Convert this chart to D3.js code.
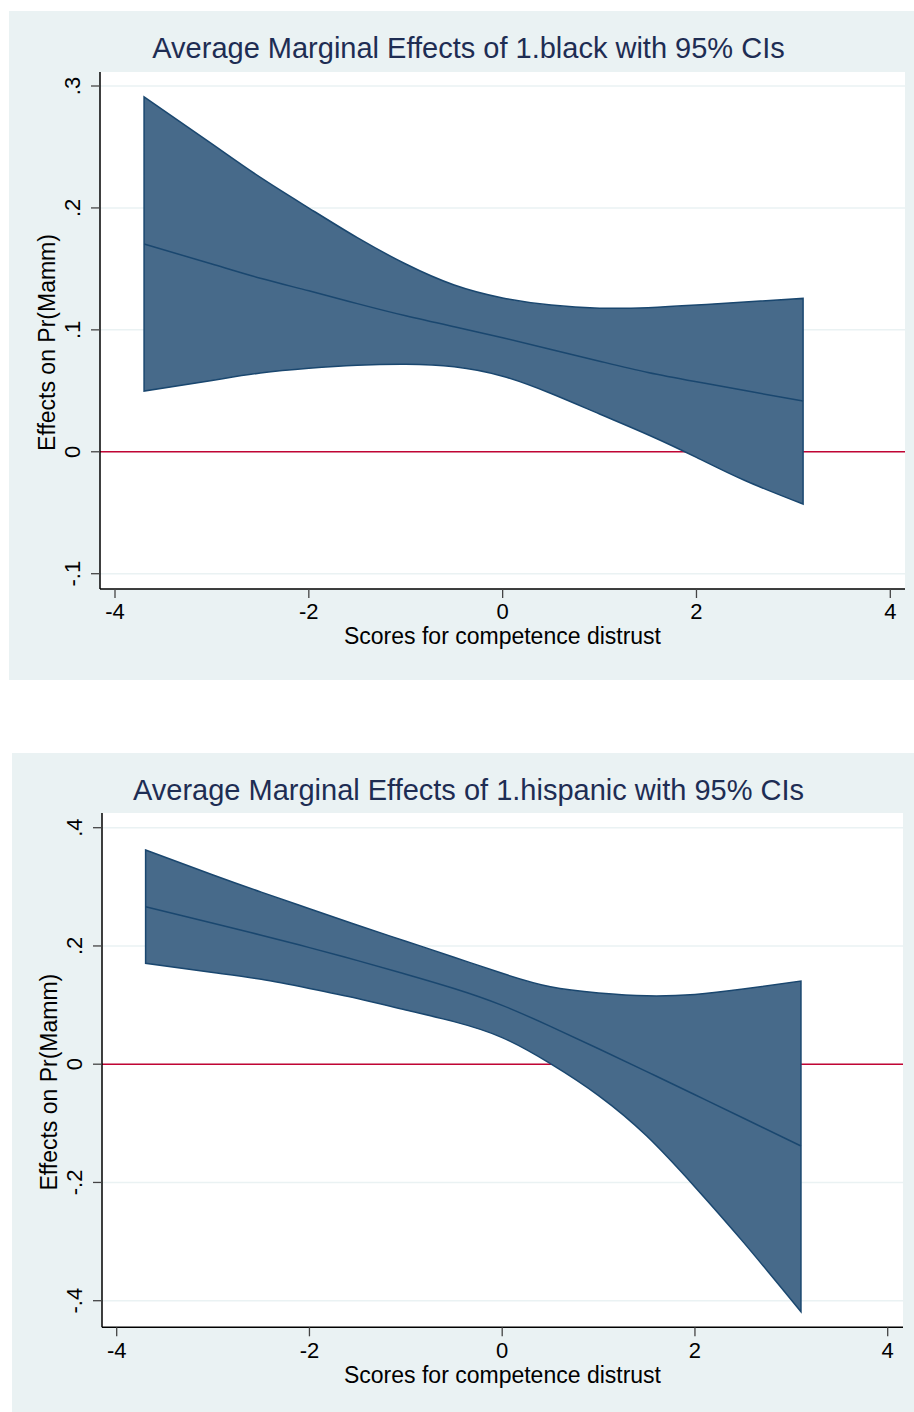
<!DOCTYPE html>
<html>
<head>
<meta charset="utf-8">
<script src="https://cdn.jsdelivr.net/npm/d3@7"></script>
<style>
  html, body { margin: 0; padding: 0; background: #ffffff; }
  svg { display: block; }
  text { font-family: "Liberation Sans", Arial, Helvetica, sans-serif; }
</style>
</head>
<body>
<svg id="chart" width="914" height="1412"></svg>
<script>
// ---- data ----
const xGrid = [-3.7, -3, -2.5, -2, -1.5, -1, -0.5, 0, 0.5, 1, 1.5, 2, 2.5, 3.1];

const blackUpper = [0.291, 0.2525, 0.2250, 0.1999, 0.1756, 0.1540, 0.1368, 0.1262, 0.1203, 0.1178, 0.1182, 0.1203, 0.1228, 0.1258];
const blackMean  = [0.1704, 0.154, 0.1423, 0.132, 0.1215, 0.1115, 0.1025, 0.0935, 0.0839, 0.0743, 0.0650, 0.0574, 0.0502, 0.0416];
const blackLower = [0.0498, 0.0585, 0.0646, 0.0685, 0.0710, 0.0718, 0.0698, 0.0620, 0.0478, 0.0310, 0.0140, -0.0046, -0.0236, -0.0429];

const hispUpper = [0.3623, 0.3200, 0.2910, 0.2630, 0.2350, 0.2080, 0.1810, 0.1537, 0.1310, 0.1205, 0.1157, 0.1180, 0.1270, 0.1407];
const hispMean  = [0.2664, 0.2384, 0.2182, 0.1972, 0.1752, 0.1522, 0.1280, 0.0995, 0.0640, 0.0262, -0.0126, -0.0516, -0.0910, -0.1383];
const hispLower = [0.1706, 0.1550, 0.1435, 0.1282, 0.1113, 0.0918, 0.0720, 0.0450, 0.0010, -0.0530, -0.1215, -0.2075, -0.3005, -0.4186];

const xTicks = [-4, -2, 0, 2, 4];
const xTickLabels = ["-4", "-2", "0", "2", "4"];
const blackYTicks = [-0.1, 0, 0.1, 0.2, 0.3];
const blackYTickLabels = ["-.1", "0", ".1", ".2", ".3"];
const hispYTicks = [-0.4, -0.2, 0, 0.2, 0.4];
const hispYTickLabels = ["-.4", "-.2", "0", ".2", ".4"];

const titles = ["Average Marginal Effects of 1.black with 95% CIs",
                "Average Marginal Effects of 1.hispanic with 95% CIs"];
const xTitle = "Scores for competence distrust";
const yTitle = "Effects on Pr(Mamm)";

// ---- layout ----
const panels = [
  { bg: [9, 11, 914, 680], plot: [100, 72, 905, 589],
    xr: [115, 890.3], yd: [-0.1, 0.3], yr: [573.7, 86],
    yTicks: blackYTicks, yLabels: blackYTickLabels,
    upper: blackUpper, mean: blackMean, lower: blackLower,
    title: titles[0], titleY: 58, tickLabY: 619, xTitleY: 644, yLabX: 80, yTitleX: 55 },
  { bg: [12, 753, 914, 1412], plot: [102, 813, 903, 1327.3],
    xr: [116.7, 887.7], yd: [-0.4, 0.4], yr: [1300.7, 827.7],
    yTicks: hispYTicks, yLabels: hispYTickLabels,
    upper: hispUpper, mean: hispMean, lower: hispLower,
    title: titles[1], titleY: 800, tickLabY: 1358, xTitleY: 1383, yLabX: 82, yTitleX: 57 }
];

const svg = d3.select("#chart");
const navy = "#1a476f";

panels.forEach(p => {
  const g = svg.append("g");
  const [bx0, by0, bx1, by1] = p.bg;
  g.append("rect").attr("x", bx0).attr("y", by0).attr("width", bx1 - bx0).attr("height", by1 - by0)
    .attr("fill", "#eaf2f3");
  const [px0, py0, px1, py1] = p.plot;
  g.append("rect").attr("x", px0).attr("y", py0).attr("width", px1 - px0).attr("height", py1 - py0)
    .attr("fill", "#ffffff");

  const x = d3.scaleLinear().domain([-4, 4]).range(p.xr);
  const y = d3.scaleLinear().domain(p.yd).range(p.yr);

  // gridlines
  g.selectAll(".grid").data(p.yTicks).enter().append("line")
    .attr("x1", px0).attr("x2", px1)
    .attr("y1", d => y(d)).attr("y2", d => y(d))
    .attr("stroke", "#eaf2f3").attr("stroke-width", 1.5);

  // zero reference line
  g.append("line").attr("x1", px0).attr("x2", px1).attr("y1", y(0)).attr("y2", y(0))
    .attr("stroke", "#c10534").attr("stroke-width", 1.6);

  const rows = xGrid.map((xv, i) => ({ x: xv, lo: p.lower[i], hi: p.upper[i], m: p.mean[i] }));

  const area = d3.area().x(d => x(d.x)).y0(d => y(d.lo)).y1(d => y(d.hi)).curve(d3.curveNatural);
  g.append("path").datum(rows).attr("d", area)
    .attr("fill", "#476a8a").attr("stroke", navy).attr("stroke-width", 1.5).attr("stroke-linejoin", "miter");

  const line = d3.line().x(d => x(d.x)).y(d => y(d.m)).curve(d3.curveNatural);
  g.append("path").datum(rows).attr("d", line)
    .attr("fill", "none").attr("stroke", navy).attr("stroke-width", 1.5);

  // axes lines
  g.append("line").attr("x1", px0).attr("x2", px0).attr("y1", py0).attr("y2", py1)
    .attr("stroke", "#000").attr("stroke-width", 1.5);
  g.append("line").attr("x1", px0).attr("x2", px1).attr("y1", py1).attr("y2", py1)
    .attr("stroke", "#000").attr("stroke-width", 1.5);

  // y ticks
  g.selectAll(".ytick").data(p.yTicks).enter().append("line")
    .attr("x1", px0 - 9).attr("x2", px0).attr("y1", d => y(d)).attr("y2", d => y(d))
    .attr("stroke", "#444").attr("stroke-width", 1.3);
  g.selectAll(".ylab").data(p.yTicks).enter().append("text")
    .attr("transform", d => `translate(${p.yLabX},${y(d)}) rotate(-90)`)
    .attr("text-anchor", "middle").attr("font-size", 22).attr("fill", "#000")
    .text((d, i) => p.yLabels[i]);

  // x ticks
  g.selectAll(".xtick").data(xTicks).enter().append("line")
    .attr("x1", d => x(d)).attr("x2", d => x(d)).attr("y1", py1).attr("y2", py1 + 9)
    .attr("stroke", "#444").attr("stroke-width", 1.3);
  g.selectAll(".xlab").data(xTicks).enter().append("text")
    .attr("x", d => x(d)).attr("y", p.tickLabY)
    .attr("text-anchor", "middle").attr("font-size", 22).attr("fill", "#000")
    .text((d, i) => xTickLabels[i]);

  // axis titles
  g.append("text").attr("x", (px0 + px1) / 2).attr("y", p.xTitleY)
    .attr("text-anchor", "middle").attr("font-size", 23).attr("fill", "#000").text(xTitle);
  g.append("text")
    .attr("transform", `translate(${p.yTitleX},${(py0 + py1) / 2 + 12}) rotate(-90)`)
    .attr("text-anchor", "middle").attr("font-size", 23).attr("fill", "#000").text(yTitle);

  // title
  g.append("text").attr("x", 468.5).attr("y", p.titleY)
    .attr("text-anchor", "middle").attr("font-size", 29).attr("fill", "#1e2d53").text(p.title);
});
</script>
</body>
</html>
